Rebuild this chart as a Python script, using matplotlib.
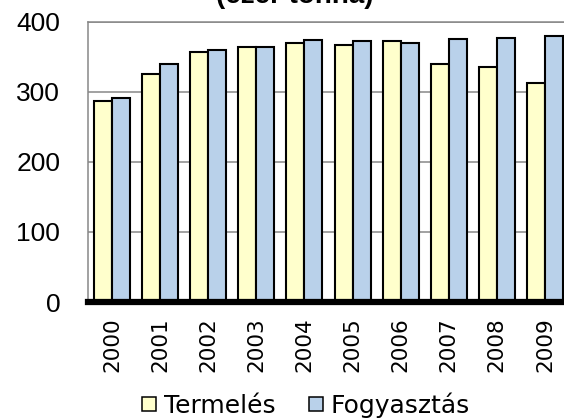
import matplotlib
matplotlib.use("Agg")
import matplotlib.pyplot as plt
import numpy as np
from matplotlib.lines import Line2D

years = ["2000", "2001", "2002", "2003", "2004", "2005", "2006", "2007", "2008", "2009"]
termeles = [286, 325, 356, 364, 370, 367, 372, 339, 335, 312]
fogyasztas = [291, 340, 359, 364, 374, 372, 369, 375, 377, 380]
y_ticks = [0, 100, 200, 300, 400]

YELLOW = "#FFFFCC"
BLUE = "#B9D1EA"

fig = plt.figure(figsize=(5.64, 4.2), dpi=100)
ax = fig.add_axes([88 / 564, 118 / 420, 481 / 564, 280.5 / 420])

x = np.arange(len(years))
width = 0.375
ax.bar(x - width / 2, termeles, width, color=YELLOW, edgecolor="black", linewidth=1.5, zorder=3)
ax.bar(x + width / 2, fogyasztas, width, color=BLUE, edgecolor="black", linewidth=1.5, zorder=3)

ax.set_xlim(-0.5, len(years) - 0.5)
ax.set_ylim(0, 400)
ax.set_yticks(y_ticks)
ax.set_yticklabels([str(v) for v in y_ticks], fontsize=19, family="Liberation Sans")
ax.set_xticks(x)
ax.set_xticklabels(years, rotation=90, fontsize=15.5, family="DejaVu Sans")
ax.tick_params(axis="y", length=0, pad=20)
ax.tick_params(axis="x", length=0, pad=11)

ax.yaxis.grid(True, color="#878787", linewidth=1.1, zorder=0)
ax.set_axisbelow(True)
for side in ["top", "left", "right"]:
    ax.spines[side].set_color("#878787")
    ax.spines[side].set_linewidth(1.1)
ax.spines["bottom"].set_color("black")
ax.spines["bottom"].set_linewidth(4.5)
ax.spines["bottom"].set_zorder(5)

# title is cut by the top edge in the reference
fig.text(295 / 564, 1 - 3 / 420, "(ezer tonna)", ha="center", va="baseline",
         fontsize=20, fontweight="bold", family="Liberation Sans")

handles = [
    Line2D([], [], linestyle="none", marker="s", markersize=9.5,
           markerfacecolor=YELLOW, markeredgecolor="black", markeredgewidth=1.1, label="Termelés"),
    Line2D([], [], linestyle="none", marker="s", markersize=9.5,
           markerfacecolor=BLUE, markeredgecolor="black", markeredgewidth=1.1, label="Fogyasztás"),
]
fig.legend(handles=handles, loc="center", bbox_to_anchor=(306 / 564, 1 - 405 / 420),
           ncol=2, frameon=False, prop={"family": "DejaVu Sans", "size": 18},
           handlelength=0.6, handletextpad=0.3,
           columnspacing=1.3, borderpad=0, borderaxespad=0)

fig.savefig("out.png", dpi=100)
